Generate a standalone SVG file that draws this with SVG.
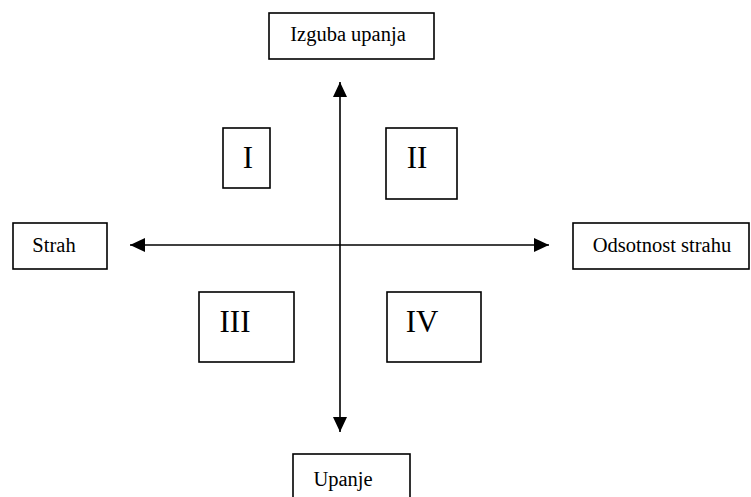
<svg xmlns="http://www.w3.org/2000/svg" width="751" height="497" viewBox="0 0 751 497">
  <style>
    .box { fill: #fff; stroke: #000; stroke-width: 1.6; }
    .lbl { font-family: "Liberation Serif", "Times New Roman", serif; font-size: 20.5px; fill: #000; text-anchor: middle; }
    .num { font-family: "Liberation Serif", "Times New Roman", serif; font-size: 31px; fill: #000; text-anchor: middle; }
    .axis { stroke: #000; stroke-width: 1.6; fill: none; }
  </style>
  <defs>
    <marker id="head" viewBox="0 0 15 14" refX="15" refY="7" markerWidth="15" markerHeight="14" markerUnits="userSpaceOnUse" orient="auto-start-reverse">
      <path d="M0,0 L15,7 L0,14 Z" fill="#000"/>
    </marker>
  </defs>
  <rect width="751" height="497" fill="#fff"/>

  <!-- axes -->
  <g id="connectors">
    <line class="axis" x1="340" y1="82" x2="340" y2="432" marker-start="url(#head)" marker-end="url(#head)"/>
    <line class="axis" x1="130" y1="245" x2="549" y2="245" marker-start="url(#head)" marker-end="url(#head)"/>
  </g>

  <!-- axis end labels -->
  <g id="izguba-upanja">
    <rect class="box" x="269" y="13" width="165" height="46"/>
    <text class="lbl" x="348" y="41">Izguba upanja</text>
  </g>
  <g id="strah">
    <rect class="box" x="13" y="223" width="94" height="46"/>
    <text class="lbl" x="54" y="252">Strah</text>
  </g>
  <g id="odsotnost-strahu">
    <rect class="box" x="573" y="223" width="176" height="46"/>
    <text class="lbl" x="662" y="252">Odsotnost strahu</text>
  </g>
  <g id="upanje">
    <rect class="box" x="293" y="454" width="117" height="50"/>
    <text class="lbl" x="343" y="486">Upanje</text>
  </g>

  <!-- quadrants -->
  <g id="q1">
    <rect class="box" x="223" y="128" width="47" height="60"/>
    <text class="num" x="248" y="168">I</text>
  </g>
  <g id="q2">
    <rect class="box" x="386" y="128" width="71" height="71"/>
    <text class="num" x="417" y="168">II</text>
  </g>
  <g id="q3">
    <rect class="box" x="199" y="292" width="95" height="70"/>
    <text class="num" x="235" y="332">III</text>
  </g>
  <g id="q4">
    <rect class="box" x="387" y="292" width="94" height="70"/>
    <text class="num" x="422" y="332">IV</text>
  </g>
</svg>
